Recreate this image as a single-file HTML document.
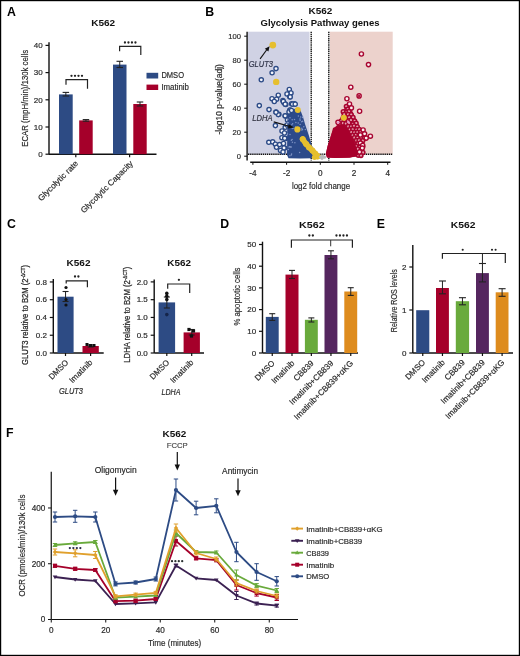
<!DOCTYPE html><html><head><meta charset="utf-8"><style>html,body{margin:0;padding:0;background:#fff}svg{display:block;will-change:transform;font-family:"Liberation Sans",sans-serif}</style></head><body>
<svg width="520" height="656" viewBox="0 0 520 656" >
<rect x="0" y="0" width="520" height="656" fill="#fff"/>
<text x="7.1" y="15.5" font-size="12.3" fill="#000" text-anchor="start" font-weight="bold">A</text>
<text x="103.2" y="26" font-size="9.9" fill="#111" text-anchor="middle" font-weight="bold" textLength="24" lengthAdjust="spacingAndGlyphs">K562</text>
<line x1="49" y1="42.3" x2="49" y2="154.2" stroke="#111" stroke-width="1.4"/>
<line x1="45.5" y1="45.4" x2="49" y2="45.4" stroke="#111" stroke-width="1.2"/>
<text x="42.6" y="48.1" font-size="8.0" fill="#2a2a2a" stroke="#2a2a2a" stroke-width="0.18" text-anchor="end">40</text>
<line x1="45.5" y1="72.6" x2="49" y2="72.6" stroke="#111" stroke-width="1.2"/>
<text x="42.6" y="75.3" font-size="8.0" fill="#2a2a2a" stroke="#2a2a2a" stroke-width="0.18" text-anchor="end">30</text>
<line x1="45.5" y1="99.8" x2="49" y2="99.8" stroke="#111" stroke-width="1.2"/>
<text x="42.6" y="102.5" font-size="8.0" fill="#2a2a2a" stroke="#2a2a2a" stroke-width="0.18" text-anchor="end">20</text>
<line x1="45.5" y1="127.0" x2="49" y2="127.0" stroke="#111" stroke-width="1.2"/>
<text x="42.6" y="129.7" font-size="8.0" fill="#2a2a2a" stroke="#2a2a2a" stroke-width="0.18" text-anchor="end">10</text>
<line x1="45.5" y1="154.2" x2="49" y2="154.2" stroke="#111" stroke-width="1.2"/>
<text x="42.6" y="156.9" font-size="8.0" fill="#2a2a2a" stroke="#2a2a2a" stroke-width="0.18" text-anchor="end">0</text>
<line x1="49" y1="154.2" x2="156.5" y2="154.2" stroke="#111" stroke-width="1.4"/>
<line x1="75.8" y1="154.2" x2="75.8" y2="157.2" stroke="#111" stroke-width="1.2"/>
<line x1="129.6" y1="154.2" x2="129.6" y2="157.2" stroke="#111" stroke-width="1.2"/>
<rect x="59" y="94.4" width="13.7" height="59.8" fill="#2d4b84"/>
<line x1="65.85" y1="92.4" x2="65.85" y2="96.0" stroke="#222" stroke-width="1.0"/>
<line x1="62.6" y1="92.4" x2="69.1" y2="92.4" stroke="#222" stroke-width="1.1"/>
<line x1="62.6" y1="96.0" x2="69.1" y2="96.0" stroke="#222" stroke-width="1.1"/>
<rect x="79.2" y="120.4" width="13.5" height="33.8" fill="#a5002a"/>
<line x1="85.95" y1="119.6" x2="85.95" y2="121.2" stroke="#222" stroke-width="1.0"/>
<line x1="82.7" y1="119.6" x2="89.2" y2="119.6" stroke="#222" stroke-width="1.1"/>
<line x1="82.7" y1="121.2" x2="89.2" y2="121.2" stroke="#222" stroke-width="1.1"/>
<rect x="113" y="64.6" width="13.5" height="89.6" fill="#2d4b84"/>
<line x1="119.75" y1="61.3" x2="119.75" y2="67.5" stroke="#222" stroke-width="1.0"/>
<line x1="116.5" y1="61.3" x2="123.0" y2="61.3" stroke="#222" stroke-width="1.1"/>
<line x1="116.5" y1="67.5" x2="123.0" y2="67.5" stroke="#222" stroke-width="1.1"/>
<rect x="133.3" y="104" width="13.4" height="50.2" fill="#a5002a"/>
<line x1="140.0" y1="102" x2="140.0" y2="106" stroke="#222" stroke-width="1.0"/>
<line x1="136.75" y1="102" x2="143.25" y2="102" stroke="#222" stroke-width="1.1"/>
<line x1="136.75" y1="106" x2="143.25" y2="106" stroke="#222" stroke-width="1.1"/>
<polyline points="66,84.8 66,79.6 87.5,79.6 87.5,88.7" fill="none" stroke="#222" stroke-width="1.2"/>
<circle cx="71.50" cy="75.8" r="1.15" fill="#222"/>
<circle cx="75.00" cy="75.8" r="1.15" fill="#222"/>
<circle cx="78.50" cy="75.8" r="1.15" fill="#222"/>
<circle cx="82.00" cy="75.8" r="1.15" fill="#222"/>
<polyline points="119.6,51.2 119.6,46.3 140.8,46.3 140.8,55" fill="none" stroke="#222" stroke-width="1.2"/>
<circle cx="124.95" cy="42.5" r="1.15" fill="#222"/>
<circle cx="128.45" cy="42.5" r="1.15" fill="#222"/>
<circle cx="131.95" cy="42.5" r="1.15" fill="#222"/>
<circle cx="135.45" cy="42.5" r="1.15" fill="#222"/>
<rect x="146.5" y="72.8" width="11.7" height="5.7" fill="#2d4b84"/>
<rect x="146.5" y="84.6" width="11.7" height="5.4" fill="#a5002a"/>
<text x="161.4" y="78.0" font-size="8.2" fill="#2a2a2a" stroke="#2a2a2a" stroke-width="0.18" text-anchor="start" textLength="22.6" lengthAdjust="spacingAndGlyphs">DMSO</text>
<text x="161.4" y="89.6" font-size="8.2" fill="#2a2a2a" stroke="#2a2a2a" stroke-width="0.18" text-anchor="start" textLength="27.5" lengthAdjust="spacingAndGlyphs">Imatinib</text>
<text x="28.3" y="98.3" font-size="8.2" fill="#2a2a2a" stroke="#2a2a2a" stroke-width="0.18" text-anchor="middle" textLength="97" lengthAdjust="spacingAndGlyphs" transform="rotate(-90 28.3 98.3)">ECAR (mpH/min)/130k cells</text>
<text x="78.7" y="164" font-size="8.2" fill="#2a2a2a" stroke="#2a2a2a" stroke-width="0.18" text-anchor="end" textLength="53" lengthAdjust="spacingAndGlyphs" transform="rotate(-45 78.7 164)">Glycolytic rate</text>
<text x="133.5" y="164" font-size="8.2" fill="#2a2a2a" stroke="#2a2a2a" stroke-width="0.18" text-anchor="end" textLength="70" lengthAdjust="spacingAndGlyphs" transform="rotate(-45 133.5 164)">Glycolytic Capacity</text>
<text x="6.9" y="228.2" font-size="12.3" fill="#000" text-anchor="start" font-weight="bold">C</text>
<text x="78.5" y="266" font-size="9.9" fill="#111" text-anchor="middle" font-weight="bold" textLength="23.9" lengthAdjust="spacingAndGlyphs">K562</text>
<line x1="53.3" y1="279" x2="53.3" y2="353" stroke="#111" stroke-width="1.4"/>
<line x1="49.8" y1="281.96" x2="53.3" y2="281.96" stroke="#111" stroke-width="1.2"/>
<text x="46.9" y="284.66" font-size="8.0" fill="#2a2a2a" stroke="#2a2a2a" stroke-width="0.18" text-anchor="end">0.8</text>
<line x1="49.8" y1="299.72" x2="53.3" y2="299.72" stroke="#111" stroke-width="1.2"/>
<text x="46.9" y="302.42" font-size="8.0" fill="#2a2a2a" stroke="#2a2a2a" stroke-width="0.18" text-anchor="end">0.6</text>
<line x1="49.8" y1="317.48" x2="53.3" y2="317.48" stroke="#111" stroke-width="1.2"/>
<text x="46.9" y="320.18" font-size="8.0" fill="#2a2a2a" stroke="#2a2a2a" stroke-width="0.18" text-anchor="end">0.4</text>
<line x1="49.8" y1="335.24" x2="53.3" y2="335.24" stroke="#111" stroke-width="1.2"/>
<text x="46.9" y="337.94" font-size="8.0" fill="#2a2a2a" stroke="#2a2a2a" stroke-width="0.18" text-anchor="end">0.2</text>
<line x1="49.8" y1="353.0" x2="53.3" y2="353.0" stroke="#111" stroke-width="1.2"/>
<text x="46.9" y="355.7" font-size="8.0" fill="#2a2a2a" stroke="#2a2a2a" stroke-width="0.18" text-anchor="end">0.0</text>
<line x1="53.3" y1="353" x2="103.7" y2="353" stroke="#111" stroke-width="1.4"/>
<line x1="65.5" y1="353" x2="65.5" y2="356" stroke="#111" stroke-width="1.2"/>
<line x1="90.6" y1="353" x2="90.6" y2="356" stroke="#111" stroke-width="1.2"/>
<rect x="57.5" y="296.7" width="16.1" height="56.3" fill="#2d4b84"/>
<line x1="65.55" y1="291.5" x2="65.55" y2="301.5" stroke="#222" stroke-width="1.0"/>
<line x1="62.55" y1="291.5" x2="68.55" y2="291.5" stroke="#222" stroke-width="1.1"/>
<line x1="62.55" y1="301.5" x2="68.55" y2="301.5" stroke="#222" stroke-width="1.1"/>
<rect x="82.5" y="346" width="16.3" height="7" fill="#a5002a"/>
<line x1="90.65" y1="345" x2="90.65" y2="347" stroke="#222" stroke-width="1.0"/>
<line x1="87.65" y1="345" x2="93.65" y2="345" stroke="#222" stroke-width="1.1"/>
<line x1="87.65" y1="347" x2="93.65" y2="347" stroke="#222" stroke-width="1.1"/>
<circle cx="66" cy="287.5" r="1.6" fill="#111"/>
<circle cx="66" cy="299.5" r="1.6" fill="#111"/>
<circle cx="66" cy="305" r="1.6" fill="#111"/>
<rect x="85.5" y="343.0" width="3" height="3" fill="#111"/>
<rect x="89.0" y="344.0" width="3" height="3" fill="#111"/>
<rect x="92.5" y="344.0" width="3" height="3" fill="#111"/>
<polyline points="66.2,283.5 66.2,280.9 87.4,280.9 87.4,287.2" fill="none" stroke="#222" stroke-width="1.2"/>
<circle cx="75.00" cy="276.5" r="1.15" fill="#222"/>
<circle cx="78.40" cy="276.5" r="1.15" fill="#222"/>
<text x="27.8" y="315" font-size="8.2" fill="#2a2a2a" stroke="#2a2a2a" stroke-width="0.25" text-anchor="middle" transform="rotate(-90 27.8 315)" textLength="100" lengthAdjust="spacingAndGlyphs">GLUT3 relative to B2M (2<tspan font-size="5" dy="-3">-ΔCT</tspan><tspan dy="3">)</tspan></text>
<text x="69" y="363" font-size="8.2" fill="#2a2a2a" stroke="#2a2a2a" stroke-width="0.18" text-anchor="end" textLength="24" lengthAdjust="spacingAndGlyphs" transform="rotate(-45 69 363)">DMSO</text>
<text x="93" y="363" font-size="8.2" fill="#2a2a2a" stroke="#2a2a2a" stroke-width="0.18" text-anchor="end" textLength="29" lengthAdjust="spacingAndGlyphs" transform="rotate(-45 93 363)">Imatinib</text>
<text x="71" y="394" font-size="8.6" fill="#2a2a2a" stroke="#2a2a2a" stroke-width="0.18" text-anchor="middle" font-style="italic" textLength="24" lengthAdjust="spacingAndGlyphs">GLUT3</text>
<text x="179.2" y="265.8" font-size="9.9" fill="#111" text-anchor="middle" font-weight="bold" textLength="23.7" lengthAdjust="spacingAndGlyphs">K562</text>
<line x1="154.2" y1="279.5" x2="154.2" y2="353" stroke="#111" stroke-width="1.4"/>
<line x1="150.7" y1="281.9" x2="154.2" y2="281.9" stroke="#111" stroke-width="1.2"/>
<text x="147.8" y="284.6" font-size="8.0" fill="#2a2a2a" stroke="#2a2a2a" stroke-width="0.18" text-anchor="end">2.0</text>
<line x1="150.7" y1="299.68" x2="154.2" y2="299.68" stroke="#111" stroke-width="1.2"/>
<text x="147.8" y="302.38" font-size="8.0" fill="#2a2a2a" stroke="#2a2a2a" stroke-width="0.18" text-anchor="end">1.5</text>
<line x1="150.7" y1="317.45" x2="154.2" y2="317.45" stroke="#111" stroke-width="1.2"/>
<text x="147.8" y="320.15" font-size="8.0" fill="#2a2a2a" stroke="#2a2a2a" stroke-width="0.18" text-anchor="end">1.0</text>
<line x1="150.7" y1="335.23" x2="154.2" y2="335.23" stroke="#111" stroke-width="1.2"/>
<text x="147.8" y="337.93" font-size="8.0" fill="#2a2a2a" stroke="#2a2a2a" stroke-width="0.18" text-anchor="end">0.5</text>
<line x1="150.7" y1="353.0" x2="154.2" y2="353.0" stroke="#111" stroke-width="1.2"/>
<text x="147.8" y="355.7" font-size="8.0" fill="#2a2a2a" stroke="#2a2a2a" stroke-width="0.18" text-anchor="end">0.0</text>
<line x1="154.2" y1="353" x2="204" y2="353" stroke="#111" stroke-width="1.4"/>
<line x1="166.8" y1="353" x2="166.8" y2="356" stroke="#111" stroke-width="1.2"/>
<line x1="191.7" y1="353" x2="191.7" y2="356" stroke="#111" stroke-width="1.2"/>
<rect x="158.6" y="302.4" width="16.5" height="50.6" fill="#2d4b84"/>
<line x1="166.85" y1="297" x2="166.85" y2="308" stroke="#222" stroke-width="1.0"/>
<line x1="163.85" y1="297" x2="169.85" y2="297" stroke="#222" stroke-width="1.1"/>
<line x1="163.85" y1="308" x2="169.85" y2="308" stroke="#222" stroke-width="1.1"/>
<rect x="183.6" y="332.4" width="16.3" height="20.6" fill="#a5002a"/>
<line x1="191.75" y1="329.5" x2="191.75" y2="335" stroke="#222" stroke-width="1.0"/>
<line x1="188.75" y1="329.5" x2="194.75" y2="329.5" stroke="#222" stroke-width="1.1"/>
<line x1="188.75" y1="335" x2="194.75" y2="335" stroke="#222" stroke-width="1.1"/>
<circle cx="166.8" cy="293.4" r="1.8" fill="#111"/>
<circle cx="166.8" cy="296.3" r="1.8" fill="#111"/>
<circle cx="166.8" cy="299.6" r="1.8" fill="#111"/>
<circle cx="166.8" cy="314.6" r="1.8" fill="#15254a"/>
<rect x="187.4" y="327.9" width="3.2" height="3.2" fill="#111"/>
<rect x="191.9" y="329.4" width="3.2" height="3.2" fill="#111"/>
<rect x="189.9" y="334.4" width="3.2" height="3.2" fill="#111"/>
<polyline points="167.7,288.7 167.7,284 189.7,284 189.7,292.9" fill="none" stroke="#222" stroke-width="1.2"/>
<circle cx="178.90" cy="279.8" r="1.15" fill="#222"/>
<text x="130" y="314.7" font-size="8.2" fill="#2a2a2a" stroke="#2a2a2a" stroke-width="0.25" text-anchor="middle" transform="rotate(-90 130 314.7)" textLength="96" lengthAdjust="spacingAndGlyphs">LDHA relative to B2M (2<tspan font-size="5" dy="-3">-ΔCT</tspan><tspan dy="3">)</tspan></text>
<text x="170" y="363" font-size="8.2" fill="#2a2a2a" stroke="#2a2a2a" stroke-width="0.18" text-anchor="end" textLength="24" lengthAdjust="spacingAndGlyphs" transform="rotate(-45 170 363)">DMSO</text>
<text x="194" y="363" font-size="8.2" fill="#2a2a2a" stroke="#2a2a2a" stroke-width="0.18" text-anchor="end" textLength="29" lengthAdjust="spacingAndGlyphs" transform="rotate(-45 194 363)">Imatinib</text>
<text x="171" y="394.5" font-size="8.6" fill="#2a2a2a" stroke="#2a2a2a" stroke-width="0.18" text-anchor="middle" font-style="italic" textLength="19" lengthAdjust="spacingAndGlyphs">LDHA</text>
<text x="220.2" y="227.9" font-size="12.3" fill="#000" text-anchor="start" font-weight="bold">D</text>
<text x="311.8" y="227.8" font-size="9.9" fill="#111" text-anchor="middle" font-weight="bold" textLength="25.6" lengthAdjust="spacingAndGlyphs">K562</text>
<line x1="262.5" y1="241.7" x2="262.5" y2="353" stroke="#111" stroke-width="1.4"/>
<line x1="259.0" y1="244.5" x2="262.5" y2="244.5" stroke="#111" stroke-width="1.2"/>
<text x="256.1" y="247.2" font-size="8.0" fill="#2a2a2a" stroke="#2a2a2a" stroke-width="0.18" text-anchor="end">50</text>
<line x1="259.0" y1="266.2" x2="262.5" y2="266.2" stroke="#111" stroke-width="1.2"/>
<text x="256.1" y="268.9" font-size="8.0" fill="#2a2a2a" stroke="#2a2a2a" stroke-width="0.18" text-anchor="end">40</text>
<line x1="259.0" y1="287.9" x2="262.5" y2="287.9" stroke="#111" stroke-width="1.2"/>
<text x="256.1" y="290.6" font-size="8.0" fill="#2a2a2a" stroke="#2a2a2a" stroke-width="0.18" text-anchor="end">30</text>
<line x1="259.0" y1="309.6" x2="262.5" y2="309.6" stroke="#111" stroke-width="1.2"/>
<text x="256.1" y="312.3" font-size="8.0" fill="#2a2a2a" stroke="#2a2a2a" stroke-width="0.18" text-anchor="end">20</text>
<line x1="259.0" y1="331.3" x2="262.5" y2="331.3" stroke="#111" stroke-width="1.2"/>
<text x="256.1" y="334.0" font-size="8.0" fill="#2a2a2a" stroke="#2a2a2a" stroke-width="0.18" text-anchor="end">10</text>
<line x1="259.0" y1="353.0" x2="262.5" y2="353.0" stroke="#111" stroke-width="1.2"/>
<text x="256.1" y="355.7" font-size="8.0" fill="#2a2a2a" stroke="#2a2a2a" stroke-width="0.18" text-anchor="end">0</text>
<line x1="262.5" y1="353" x2="358" y2="353" stroke="#111" stroke-width="1.4"/>
<line x1="272.25" y1="353" x2="272.25" y2="356" stroke="#111" stroke-width="1.2"/>
<line x1="292.0" y1="353" x2="292.0" y2="356" stroke="#111" stroke-width="1.2"/>
<line x1="311.35" y1="353" x2="311.35" y2="356" stroke="#111" stroke-width="1.2"/>
<line x1="330.95" y1="353" x2="330.95" y2="356" stroke="#111" stroke-width="1.2"/>
<line x1="350.75" y1="353" x2="350.75" y2="356" stroke="#111" stroke-width="1.2"/>
<rect x="265.8" y="316.9" width="12.9" height="36.1" fill="#2d4b84"/>
<line x1="272.25" y1="313.7" x2="272.25" y2="320.4" stroke="#222" stroke-width="1.0"/>
<line x1="269.25" y1="313.7" x2="275.25" y2="313.7" stroke="#222" stroke-width="1.1"/>
<line x1="269.25" y1="320.4" x2="275.25" y2="320.4" stroke="#222" stroke-width="1.1"/>
<rect x="285.5" y="274.6" width="13.0" height="78.4" fill="#a5002a"/>
<line x1="292.0" y1="270.4" x2="292.0" y2="278.5" stroke="#222" stroke-width="1.0"/>
<line x1="289.0" y1="270.4" x2="295.0" y2="270.4" stroke="#222" stroke-width="1.1"/>
<line x1="289.0" y1="278.5" x2="295.0" y2="278.5" stroke="#222" stroke-width="1.1"/>
<rect x="304.9" y="319.8" width="12.9" height="33.2" fill="#69aa3c"/>
<line x1="311.35" y1="317.9" x2="311.35" y2="322" stroke="#222" stroke-width="1.0"/>
<line x1="308.35" y1="317.9" x2="314.35" y2="317.9" stroke="#222" stroke-width="1.1"/>
<line x1="308.35" y1="322" x2="314.35" y2="322" stroke="#222" stroke-width="1.1"/>
<rect x="324.5" y="255" width="12.9" height="98" fill="#55265f"/>
<line x1="330.95" y1="250.8" x2="330.95" y2="258.8" stroke="#222" stroke-width="1.0"/>
<line x1="327.95" y1="250.8" x2="333.95" y2="250.8" stroke="#222" stroke-width="1.1"/>
<line x1="327.95" y1="258.8" x2="333.95" y2="258.8" stroke="#222" stroke-width="1.1"/>
<rect x="344.3" y="291.5" width="12.9" height="61.5" fill="#de8c1e"/>
<line x1="350.75" y1="287.7" x2="350.75" y2="295.4" stroke="#222" stroke-width="1.0"/>
<line x1="347.75" y1="287.7" x2="353.75" y2="287.7" stroke="#222" stroke-width="1.1"/>
<line x1="347.75" y1="295.4" x2="353.75" y2="295.4" stroke="#222" stroke-width="1.1"/>
<polyline points="291.4,247.7 291.4,240 352.4,240 352.4,247.7" fill="none" stroke="#222" stroke-width="1.2"/>
<line x1="330.7" y1="240" x2="330.7" y2="246.3" stroke="#333" stroke-width="1.0"/>
<circle cx="309.35" cy="235.5" r="1.15" fill="#222"/>
<circle cx="312.85" cy="235.5" r="1.15" fill="#222"/>
<circle cx="336.45" cy="235.5" r="1.15" fill="#222"/>
<circle cx="339.95" cy="235.5" r="1.15" fill="#222"/>
<circle cx="343.45" cy="235.5" r="1.15" fill="#222"/>
<circle cx="346.95" cy="235.5" r="1.15" fill="#222"/>
<text x="240.3" y="296.5" font-size="8.2" fill="#2a2a2a" stroke="#2a2a2a" stroke-width="0.18" text-anchor="middle" textLength="58" lengthAdjust="spacingAndGlyphs" transform="rotate(-90 240.3 296.5)">% apoptotic cells</text>
<text x="275.25" y="363.8" font-size="8.2" fill="#2a2a2a" stroke="#2a2a2a" stroke-width="0.18" text-anchor="end" transform="rotate(-45 275.25 363.8)">DMSO</text>
<text x="295.0" y="363.8" font-size="8.2" fill="#2a2a2a" stroke="#2a2a2a" stroke-width="0.18" text-anchor="end" transform="rotate(-45 295.0 363.8)">Imatinib</text>
<text x="314.35" y="363.8" font-size="8.2" fill="#2a2a2a" stroke="#2a2a2a" stroke-width="0.18" text-anchor="end" transform="rotate(-45 314.35 363.8)">CB839</text>
<text x="333.95" y="363.8" font-size="8.2" fill="#2a2a2a" stroke="#2a2a2a" stroke-width="0.18" text-anchor="end" transform="rotate(-45 333.95 363.8)">Imatinib+CB839</text>
<text x="353.75" y="363.8" font-size="8.2" fill="#2a2a2a" stroke="#2a2a2a" stroke-width="0.18" text-anchor="end" transform="rotate(-45 353.75 363.8)">Imatinib+CB839+αKG</text>
<text x="376.8" y="227.9" font-size="12.3" fill="#000" text-anchor="start" font-weight="bold">E</text>
<text x="463.1" y="227.8" font-size="9.9" fill="#111" text-anchor="middle" font-weight="bold" textLength="24.6" lengthAdjust="spacingAndGlyphs">K562</text>
<line x1="412.8" y1="245" x2="412.8" y2="353" stroke="#111" stroke-width="1.4"/>
<line x1="409.3" y1="267" x2="412.8" y2="267" stroke="#111" stroke-width="1.2"/>
<text x="406.4" y="269.7" font-size="8.0" fill="#2a2a2a" stroke="#2a2a2a" stroke-width="0.18" text-anchor="end">2</text>
<line x1="409.3" y1="310" x2="412.8" y2="310" stroke="#111" stroke-width="1.2"/>
<text x="406.4" y="312.7" font-size="8.0" fill="#2a2a2a" stroke="#2a2a2a" stroke-width="0.18" text-anchor="end">1</text>
<line x1="409.3" y1="353" x2="412.8" y2="353" stroke="#111" stroke-width="1.2"/>
<text x="406.4" y="355.7" font-size="8.0" fill="#2a2a2a" stroke="#2a2a2a" stroke-width="0.18" text-anchor="end">0</text>
<line x1="412.8" y1="353" x2="513" y2="353" stroke="#111" stroke-width="1.4"/>
<line x1="422.75" y1="353" x2="422.75" y2="356" stroke="#111" stroke-width="1.2"/>
<line x1="442.45" y1="353" x2="442.45" y2="356" stroke="#111" stroke-width="1.2"/>
<line x1="462.45" y1="353" x2="462.45" y2="356" stroke="#111" stroke-width="1.2"/>
<line x1="482.45" y1="353" x2="482.45" y2="356" stroke="#111" stroke-width="1.2"/>
<line x1="502.1" y1="353" x2="502.1" y2="356" stroke="#111" stroke-width="1.2"/>
<rect x="416.2" y="310.2" width="13.1" height="42.8" fill="#2d4b84"/>
<rect x="436" y="288" width="12.9" height="65" fill="#a5002a"/>
<line x1="442.45" y1="281" x2="442.45" y2="293.8" stroke="#222" stroke-width="1.0"/>
<line x1="438.95" y1="281" x2="445.95" y2="281" stroke="#222" stroke-width="1.1"/>
<line x1="438.95" y1="293.8" x2="445.95" y2="293.8" stroke="#222" stroke-width="1.1"/>
<rect x="455.8" y="301.2" width="13.3" height="51.8" fill="#69aa3c"/>
<line x1="462.45" y1="297.7" x2="462.45" y2="304.8" stroke="#222" stroke-width="1.0"/>
<line x1="458.95" y1="297.7" x2="465.95" y2="297.7" stroke="#222" stroke-width="1.1"/>
<line x1="458.95" y1="304.8" x2="465.95" y2="304.8" stroke="#222" stroke-width="1.1"/>
<rect x="476" y="273.1" width="12.9" height="79.9" fill="#55265f"/>
<line x1="482.45" y1="263.5" x2="482.45" y2="281.9" stroke="#222" stroke-width="1.0"/>
<line x1="478.95" y1="263.5" x2="485.95" y2="263.5" stroke="#222" stroke-width="1.1"/>
<line x1="478.95" y1="281.9" x2="485.95" y2="281.9" stroke="#222" stroke-width="1.1"/>
<line x1="482.45" y1="253.5" x2="482.45" y2="263.5" stroke="#222" stroke-width="1.0"/>
<rect x="495.7" y="292.3" width="12.8" height="60.7" fill="#de8c1e"/>
<line x1="502.1" y1="288.7" x2="502.1" y2="296.3" stroke="#222" stroke-width="1.0"/>
<line x1="498.6" y1="288.7" x2="505.6" y2="288.7" stroke="#222" stroke-width="1.1"/>
<line x1="498.6" y1="296.3" x2="505.6" y2="296.3" stroke="#222" stroke-width="1.1"/>
<polyline points="442.4,258.8 442.4,253.5 505.3,253.5 505.3,263" fill="none" stroke="#222" stroke-width="1.2"/>
<circle cx="462.70" cy="249.8" r="1.05" fill="#222"/>
<circle cx="492.00" cy="249.8" r="1.05" fill="#222"/>
<circle cx="495.60" cy="249.8" r="1.05" fill="#222"/>
<text x="397.5" y="300.7" font-size="8.2" fill="#2a2a2a" stroke="#2a2a2a" stroke-width="0.18" text-anchor="middle" textLength="63" lengthAdjust="spacingAndGlyphs" transform="rotate(-90 397.5 300.7)">Relative ROS levels</text>
<text x="425.75" y="363" font-size="8.2" fill="#2a2a2a" stroke="#2a2a2a" stroke-width="0.18" text-anchor="end" transform="rotate(-45 425.75 363)">DMSO</text>
<text x="445.45" y="363" font-size="8.2" fill="#2a2a2a" stroke="#2a2a2a" stroke-width="0.18" text-anchor="end" transform="rotate(-45 445.45 363)">Imatinib</text>
<text x="465.45" y="363" font-size="8.2" fill="#2a2a2a" stroke="#2a2a2a" stroke-width="0.18" text-anchor="end" transform="rotate(-45 465.45 363)">CB839</text>
<text x="485.45" y="363" font-size="8.2" fill="#2a2a2a" stroke="#2a2a2a" stroke-width="0.18" text-anchor="end" transform="rotate(-45 485.45 363)">Imatinib+CB839</text>
<text x="505.1" y="363" font-size="8.2" fill="#2a2a2a" stroke="#2a2a2a" stroke-width="0.18" text-anchor="end" transform="rotate(-45 505.1 363)">Imatinib+CB839+αKG</text>
<text x="205.3" y="15.6" font-size="12.3" fill="#000" text-anchor="start" font-weight="bold">B</text>
<text x="320.4" y="13.5" font-size="9.9" fill="#111" text-anchor="middle" font-weight="bold" textLength="23.8" lengthAdjust="spacingAndGlyphs">K562</text>
<text x="320" y="25.8" font-size="9.6" fill="#111" text-anchor="middle" font-weight="bold" textLength="119" lengthAdjust="spacingAndGlyphs">Glycolysis Pathway genes</text>
<rect x="248" y="31.7" width="61.5" height="122.6" fill="#d0d2e4"/>
<rect x="330" y="31.7" width="62.7" height="122.6" fill="#ecd2cc"/>
<line x1="247.1" y1="31.7" x2="247.1" y2="160.4" stroke="#111" stroke-width="1.4"/>
<line x1="244.2" y1="36.2" x2="247.1" y2="36.2" stroke="#111" stroke-width="1.0"/>
<text x="241" y="38.8" font-size="7.6" fill="#2a2a2a" stroke="#2a2a2a" stroke-width="0.18" text-anchor="end">100</text>
<line x1="244.2" y1="60.2" x2="247.1" y2="60.2" stroke="#111" stroke-width="1.0"/>
<text x="241" y="62.8" font-size="7.6" fill="#2a2a2a" stroke="#2a2a2a" stroke-width="0.18" text-anchor="end">80</text>
<line x1="244.2" y1="84.2" x2="247.1" y2="84.2" stroke="#111" stroke-width="1.0"/>
<text x="241" y="86.8" font-size="7.6" fill="#2a2a2a" stroke="#2a2a2a" stroke-width="0.18" text-anchor="end">60</text>
<line x1="244.2" y1="108.2" x2="247.1" y2="108.2" stroke="#111" stroke-width="1.0"/>
<text x="241" y="110.8" font-size="7.6" fill="#2a2a2a" stroke="#2a2a2a" stroke-width="0.18" text-anchor="end">40</text>
<line x1="244.2" y1="132.2" x2="247.1" y2="132.2" stroke="#111" stroke-width="1.0"/>
<text x="241" y="134.8" font-size="7.6" fill="#2a2a2a" stroke="#2a2a2a" stroke-width="0.18" text-anchor="end">20</text>
<line x1="244.2" y1="156.2" x2="247.1" y2="156.2" stroke="#111" stroke-width="1.0"/>
<text x="241" y="158.8" font-size="7.6" fill="#2a2a2a" stroke="#2a2a2a" stroke-width="0.18" text-anchor="end">0</text>
<line x1="250.2" y1="162.2" x2="390.5" y2="162.2" stroke="#111" stroke-width="1.4"/>
<line x1="252.9" y1="162.2" x2="252.9" y2="164.8" stroke="#111" stroke-width="1.0"/>
<text x="252.9" y="175.8" font-size="8.2" fill="#2a2a2a" stroke="#2a2a2a" stroke-width="0.18" text-anchor="middle">-4</text>
<line x1="286.6" y1="162.2" x2="286.6" y2="164.8" stroke="#111" stroke-width="1.0"/>
<text x="286.6" y="175.8" font-size="8.2" fill="#2a2a2a" stroke="#2a2a2a" stroke-width="0.18" text-anchor="middle">-2</text>
<line x1="320.3" y1="162.2" x2="320.3" y2="164.8" stroke="#111" stroke-width="1.0"/>
<text x="320.3" y="175.8" font-size="8.2" fill="#2a2a2a" stroke="#2a2a2a" stroke-width="0.18" text-anchor="middle">0</text>
<line x1="354.0" y1="162.2" x2="354.0" y2="164.8" stroke="#111" stroke-width="1.0"/>
<text x="354.0" y="175.8" font-size="8.2" fill="#2a2a2a" stroke="#2a2a2a" stroke-width="0.18" text-anchor="middle">2</text>
<line x1="387.7" y1="162.2" x2="387.7" y2="164.8" stroke="#111" stroke-width="1.0"/>
<text x="387.7" y="175.8" font-size="8.2" fill="#2a2a2a" stroke="#2a2a2a" stroke-width="0.18" text-anchor="middle">4</text>
<text x="321" y="189" font-size="9" fill="#2a2a2a" stroke="#2a2a2a" stroke-width="0.18" text-anchor="middle" textLength="58.2" lengthAdjust="spacingAndGlyphs">log2 fold change</text>
<text x="222.2" y="99.3" font-size="8.2" fill="#2a2a2a" stroke="#2a2a2a" stroke-width="0.18" text-anchor="middle" textLength="70.5" lengthAdjust="spacingAndGlyphs" transform="rotate(-90 222.2 99.3)">-log10 p-value(adj)</text>
<line x1="311.2" y1="31.7" x2="311.2" y2="160.5" stroke="#111" stroke-width="1.4" stroke-dasharray="1.4,0.7"/>
<line x1="328.8" y1="31.7" x2="328.8" y2="160.5" stroke="#111" stroke-width="1.4" stroke-dasharray="1.4,0.7"/>
<line x1="248" y1="154.3" x2="392.7" y2="154.3" stroke="#111" stroke-width="1.4" stroke-dasharray="1.4,0.7"/>
<circle cx="276" cy="68.6" r="2.1" fill="#f4f5fb" stroke="#2b4a86" stroke-width="1.35"/>
<circle cx="272.1" cy="72.8" r="2.1" fill="#f4f5fb" stroke="#2b4a86" stroke-width="1.35"/>
<circle cx="261.3" cy="79.8" r="2.1" fill="#f4f5fb" stroke="#2b4a86" stroke-width="1.35"/>
<circle cx="289.3" cy="89.4" r="2.1" fill="#f4f5fb" stroke="#2b4a86" stroke-width="1.35"/>
<circle cx="291" cy="92.9" r="2.1" fill="#f4f5fb" stroke="#2b4a86" stroke-width="1.35"/>
<circle cx="287" cy="94" r="2.1" fill="#f4f5fb" stroke="#2b4a86" stroke-width="1.35"/>
<circle cx="289.8" cy="96.7" r="2.1" fill="#f4f5fb" stroke="#2b4a86" stroke-width="1.35"/>
<circle cx="278.3" cy="95.2" r="2.1" fill="#f4f5fb" stroke="#2b4a86" stroke-width="1.35"/>
<circle cx="272" cy="98.7" r="2.1" fill="#f4f5fb" stroke="#2b4a86" stroke-width="1.35"/>
<circle cx="276.6" cy="99.2" r="2.1" fill="#f4f5fb" stroke="#2b4a86" stroke-width="1.35"/>
<circle cx="274.3" cy="101.5" r="2.1" fill="#f4f5fb" stroke="#2b4a86" stroke-width="1.35"/>
<circle cx="282.9" cy="100.4" r="2.1" fill="#f4f5fb" stroke="#2b4a86" stroke-width="1.35"/>
<circle cx="284" cy="102.7" r="2.1" fill="#f4f5fb" stroke="#2b4a86" stroke-width="1.35"/>
<circle cx="285.8" cy="104.4" r="2.1" fill="#f4f5fb" stroke="#2b4a86" stroke-width="1.35"/>
<circle cx="291.6" cy="103.8" r="2.1" fill="#f4f5fb" stroke="#2b4a86" stroke-width="1.35"/>
<circle cx="294.5" cy="103.8" r="2.1" fill="#f4f5fb" stroke="#2b4a86" stroke-width="1.35"/>
<circle cx="259.3" cy="105.6" r="2.1" fill="#f4f5fb" stroke="#2b4a86" stroke-width="1.35"/>
<circle cx="269" cy="109.6" r="2.1" fill="#f4f5fb" stroke="#2b4a86" stroke-width="1.35"/>
<circle cx="276" cy="111.9" r="2.1" fill="#f4f5fb" stroke="#2b4a86" stroke-width="1.35"/>
<circle cx="278.9" cy="114.2" r="2.1" fill="#f4f5fb" stroke="#2b4a86" stroke-width="1.35"/>
<circle cx="285.2" cy="116" r="2.1" fill="#f4f5fb" stroke="#2b4a86" stroke-width="1.35"/>
<circle cx="289.8" cy="110.2" r="2.1" fill="#f4f5fb" stroke="#2b4a86" stroke-width="1.35"/>
<circle cx="283.3" cy="101.5" r="2.1" fill="#f4f5fb" stroke="#2b4a86" stroke-width="1.35"/>
<circle cx="285.2" cy="104.2" r="2.1" fill="#f4f5fb" stroke="#2b4a86" stroke-width="1.35"/>
<circle cx="290.2" cy="96.9" r="2.1" fill="#f4f5fb" stroke="#2b4a86" stroke-width="1.35"/>
<circle cx="292.5" cy="104.2" r="2.1" fill="#f4f5fb" stroke="#2b4a86" stroke-width="1.35"/>
<circle cx="295.2" cy="104.2" r="2.1" fill="#f4f5fb" stroke="#2b4a86" stroke-width="1.35"/>
<circle cx="290.2" cy="110" r="2.1" fill="#f4f5fb" stroke="#2b4a86" stroke-width="1.35"/>
<circle cx="285.2" cy="115.8" r="2.1" fill="#f4f5fb" stroke="#2b4a86" stroke-width="1.35"/>
<circle cx="278.3" cy="114.6" r="2.1" fill="#f4f5fb" stroke="#2b4a86" stroke-width="1.35"/>
<circle cx="275.4" cy="125.6" r="2.1" fill="#f4f5fb" stroke="#2b4a86" stroke-width="1.35"/>
<circle cx="268.8" cy="142.3" r="2.1" fill="#f4f5fb" stroke="#2b4a86" stroke-width="1.35"/>
<circle cx="272.7" cy="141.9" r="2.1" fill="#f4f5fb" stroke="#2b4a86" stroke-width="1.35"/>
<circle cx="275.4" cy="144.2" r="2.1" fill="#f4f5fb" stroke="#2b4a86" stroke-width="1.35"/>
<circle cx="276.5" cy="147.3" r="2.1" fill="#f4f5fb" stroke="#2b4a86" stroke-width="1.35"/>
<circle cx="279.6" cy="144.6" r="2.1" fill="#f4f5fb" stroke="#2b4a86" stroke-width="1.35"/>
<circle cx="281.9" cy="137.7" r="2.1" fill="#f4f5fb" stroke="#2b4a86" stroke-width="1.35"/>
<circle cx="283.5" cy="143.5" r="2.1" fill="#f4f5fb" stroke="#2b4a86" stroke-width="1.35"/>
<circle cx="284.6" cy="148.1" r="2.1" fill="#f4f5fb" stroke="#2b4a86" stroke-width="1.35"/>
<circle cx="285.8" cy="138.5" r="2.1" fill="#f4f5fb" stroke="#2b4a86" stroke-width="1.35"/>
<circle cx="284.7" cy="138.3" r="2.1" fill="#f4f5fb" stroke="#2b4a86" stroke-width="1.35"/>
<circle cx="284" cy="148" r="2.1" fill="#f4f5fb" stroke="#2b4a86" stroke-width="1.35"/>
<circle cx="276" cy="112.3" r="2.1" fill="#f4f5fb" stroke="#2b4a86" stroke-width="1.35"/>
<circle cx="285.2" cy="127.3" r="2.1" fill="#f4f5fb" stroke="#2b4a86" stroke-width="1.35"/>
<circle cx="282" cy="131" r="2.1" fill="#f4f5fb" stroke="#2b4a86" stroke-width="1.35"/>
<circle cx="284.5" cy="133" r="2.1" fill="#f4f5fb" stroke="#2b4a86" stroke-width="1.35"/>
<circle cx="280.5" cy="150.5" r="2.1" fill="#f4f5fb" stroke="#2b4a86" stroke-width="1.35"/>
<circle cx="283" cy="152" r="2.1" fill="#f4f5fb" stroke="#2b4a86" stroke-width="1.35"/>
<circle cx="287.5" cy="120" r="2.1" fill="#f4f5fb" stroke="#2b4a86" stroke-width="1.35"/>
<circle cx="287" cy="125" r="2.1" fill="#f4f5fb" stroke="#2b4a86" stroke-width="1.35"/>
<path d="M287.5,112 L292,109.5 L296,108.5 L300.5,110.5 L303,117 L305,124 L307,130 L309,136 L310.5,141 L312,146 L314.5,150 L317,153.5 L319,157 L312,158.3 L300,158.5 L288.5,158.3 L287,155 L287.2,140 L287.2,128 L287.3,118 Z" fill="#2c4a8a"/>
<circle cx="290.0" cy="134.6" r="0.75" fill="#9fb0dc" opacity="0.7"/>
<circle cx="302.6" cy="121.2" r="0.75" fill="#9fb0dc" opacity="0.7"/>
<circle cx="289.9" cy="155.8" r="0.75" fill="#9fb0dc" opacity="0.7"/>
<circle cx="298.4" cy="116.1" r="0.75" fill="#9fb0dc" opacity="0.7"/>
<circle cx="294.9" cy="142.8" r="0.75" fill="#9fb0dc" opacity="0.7"/>
<circle cx="301.8" cy="129.9" r="0.75" fill="#9fb0dc" opacity="0.7"/>
<circle cx="287.9" cy="119.2" r="0.75" fill="#9fb0dc" opacity="0.7"/>
<circle cx="305.3" cy="129.5" r="0.75" fill="#9fb0dc" opacity="0.7"/>
<circle cx="298.2" cy="123.1" r="0.75" fill="#9fb0dc" opacity="0.7"/>
<circle cx="295.7" cy="127.1" r="0.75" fill="#9fb0dc" opacity="0.7"/>
<circle cx="304.0" cy="141.1" r="0.75" fill="#9fb0dc" opacity="0.7"/>
<circle cx="288.4" cy="149.4" r="0.75" fill="#9fb0dc" opacity="0.7"/>
<circle cx="300.0" cy="118.9" r="0.75" fill="#9fb0dc" opacity="0.7"/>
<circle cx="301.8" cy="128.3" r="0.75" fill="#9fb0dc" opacity="0.7"/>
<circle cx="288.2" cy="122.8" r="0.75" fill="#9fb0dc" opacity="0.7"/>
<circle cx="297.9" cy="111.1" r="0.75" fill="#9fb0dc" opacity="0.7"/>
<circle cx="300.1" cy="124.6" r="0.75" fill="#9fb0dc" opacity="0.7"/>
<circle cx="291.6" cy="154.1" r="0.75" fill="#9fb0dc" opacity="0.7"/>
<circle cx="303.8" cy="126.8" r="0.75" fill="#9fb0dc" opacity="0.7"/>
<circle cx="300.1" cy="120.2" r="0.75" fill="#9fb0dc" opacity="0.7"/>
<circle cx="291.3" cy="155.0" r="0.75" fill="#9fb0dc" opacity="0.7"/>
<circle cx="292.4" cy="142.2" r="0.75" fill="#9fb0dc" opacity="0.7"/>
<circle cx="292.6" cy="123.7" r="0.75" fill="#9fb0dc" opacity="0.7"/>
<circle cx="289.7" cy="146.8" r="0.75" fill="#9fb0dc" opacity="0.7"/>
<circle cx="290.0" cy="117.8" r="0.75" fill="#9fb0dc" opacity="0.7"/>
<circle cx="291.8" cy="124.7" r="0.75" fill="#9fb0dc" opacity="0.7"/>
<circle cx="302.5" cy="129.6" r="0.75" fill="#9fb0dc" opacity="0.7"/>
<circle cx="303.0" cy="117.0" r="0.75" fill="#9fb0dc" opacity="0.7"/>
<circle cx="292.1" cy="139.6" r="0.75" fill="#9fb0dc" opacity="0.7"/>
<circle cx="294.5" cy="119.6" r="0.75" fill="#9fb0dc" opacity="0.7"/>
<circle cx="287.5" cy="133.9" r="0.75" fill="#9fb0dc" opacity="0.7"/>
<circle cx="289.0" cy="146.9" r="0.75" fill="#9fb0dc" opacity="0.7"/>
<circle cx="302.6" cy="117.6" r="0.75" fill="#9fb0dc" opacity="0.7"/>
<circle cx="290.9" cy="146.9" r="0.75" fill="#9fb0dc" opacity="0.7"/>
<circle cx="287.7" cy="122.7" r="0.75" fill="#9fb0dc" opacity="0.7"/>
<circle cx="301.7" cy="121.7" r="0.75" fill="#9fb0dc" opacity="0.7"/>
<circle cx="292.3" cy="128.6" r="0.75" fill="#9fb0dc" opacity="0.7"/>
<circle cx="293.8" cy="128.2" r="0.75" fill="#9fb0dc" opacity="0.7"/>
<circle cx="295.9" cy="122.6" r="0.75" fill="#9fb0dc" opacity="0.7"/>
<circle cx="292.2" cy="119.7" r="0.75" fill="#9fb0dc" opacity="0.7"/>
<circle cx="291.0" cy="147.1" r="0.75" fill="#9fb0dc" opacity="0.7"/>
<circle cx="299.6" cy="152.4" r="0.75" fill="#9fb0dc" opacity="0.7"/>
<circle cx="300.7" cy="117.1" r="0.75" fill="#9fb0dc" opacity="0.7"/>
<circle cx="291.3" cy="140.2" r="0.75" fill="#9fb0dc" opacity="0.7"/>
<circle cx="296.0" cy="128.4" r="0.75" fill="#9fb0dc" opacity="0.7"/>
<circle cx="289" cy="112" r="2.1" fill="#dfe4f2" stroke="#2b4a86" stroke-width="1.35"/>
<circle cx="291.5" cy="110.5" r="2.1" fill="#dfe4f2" stroke="#2b4a86" stroke-width="1.35"/>
<circle cx="272.8" cy="45.1" r="3.4" fill="#e6bf2e"/>
<circle cx="276.2" cy="81.9" r="3.2" fill="#e6bf2e"/>
<circle cx="297.8" cy="110" r="3" fill="#e6bf2e"/>
<circle cx="297.4" cy="129.4" r="3.1" fill="#e6bf2e"/>
<path d="M302.6,139 L306,144 L309.5,147.6 L312.5,150.6 L315.3,153.6 L317.8,156.6" stroke="#e6bf2e" stroke-width="5.6" stroke-linecap="round" fill="none"/>
<circle cx="302.8" cy="139.3" r="3" fill="#e6bf2e"/>
<circle cx="306.2" cy="144.1" r="3" fill="#e6bf2e"/>
<circle cx="309" cy="147.5" r="3" fill="#e6bf2e"/>
<circle cx="312.4" cy="150.4" r="3" fill="#e6bf2e"/>
<circle cx="315.3" cy="153.7" r="3" fill="#e6bf2e"/>
<circle cx="317.7" cy="156.2" r="3" fill="#e6bf2e"/>
<circle cx="314.5" cy="157.3" r="2.6" fill="#e6bf2e"/>
<circle cx="320.5" cy="157" r="1.6" fill="#b8bcbc"/>
<circle cx="322.5" cy="156" r="1.6" fill="#b8bcbc"/>
<circle cx="324.5" cy="157.2" r="1.6" fill="#b8bcbc"/>
<circle cx="322" cy="158.3" r="1.6" fill="#b8bcbc"/>
<path d="M347,103.5 L350,107 L352.5,111.5 L355,117 L357,123 L359.5,129 L362,133 L365,137 L364,143 L363,148 L364,153 L360,156.5 L348,157.6 L335,157.9 L327,157.5 L325.8,154 L327.6,146 L330.2,138 L332.5,131 L337,125 L340,119 L342.5,113 L344.5,108 Z" fill="#b0123c"/>
<circle cx="346.3" cy="106.3" r="1.9" fill="#e4a0ae" stroke="#a8042f" stroke-width="1.5"/>
<circle cx="347.8" cy="109.2" r="1.9" fill="#e4a0ae" stroke="#a8042f" stroke-width="1.5"/>
<circle cx="343.2" cy="111.7" r="1.9" fill="#e4a0ae" stroke="#a8042f" stroke-width="1.5"/>
<circle cx="346.7" cy="112.1" r="1.9" fill="#e4a0ae" stroke="#a8042f" stroke-width="1.5"/>
<circle cx="349.0" cy="111.5" r="1.9" fill="#e4a0ae" stroke="#a8042f" stroke-width="1.5"/>
<circle cx="344.2" cy="114.3" r="1.9" fill="#e4a0ae" stroke="#a8042f" stroke-width="1.5"/>
<circle cx="348.1" cy="114.4" r="1.9" fill="#e4a0ae" stroke="#a8042f" stroke-width="1.5"/>
<circle cx="351.2" cy="114.6" r="1.9" fill="#e4a0ae" stroke="#a8042f" stroke-width="1.5"/>
<circle cx="343.3" cy="117.7" r="1.9" fill="#e4a0ae" stroke="#a8042f" stroke-width="1.5"/>
<circle cx="345.8" cy="118.1" r="1.9" fill="#e4a0ae" stroke="#a8042f" stroke-width="1.5"/>
<circle cx="349.2" cy="117.4" r="1.9" fill="#e4a0ae" stroke="#a8042f" stroke-width="1.5"/>
<circle cx="353.1" cy="117.4" r="1.9" fill="#e4a0ae" stroke="#a8042f" stroke-width="1.5"/>
<circle cx="341.3" cy="120.9" r="1.9" fill="#e4a0ae" stroke="#a8042f" stroke-width="1.5"/>
<circle cx="344.2" cy="120.2" r="1.9" fill="#e4a0ae" stroke="#a8042f" stroke-width="1.5"/>
<circle cx="348.3" cy="120.8" r="1.9" fill="#e4a0ae" stroke="#a8042f" stroke-width="1.5"/>
<circle cx="350.9" cy="120.2" r="1.9" fill="#e4a0ae" stroke="#a8042f" stroke-width="1.5"/>
<circle cx="354.7" cy="120.9" r="1.9" fill="#e4a0ae" stroke="#a8042f" stroke-width="1.5"/>
<circle cx="339.4" cy="123.7" r="1.9" fill="#e4a0ae" stroke="#a8042f" stroke-width="1.5"/>
<circle cx="343.0" cy="123.2" r="1.9" fill="#e4a0ae" stroke="#a8042f" stroke-width="1.5"/>
<circle cx="345.9" cy="123.6" r="1.9" fill="#e4a0ae" stroke="#a8042f" stroke-width="1.5"/>
<circle cx="349.1" cy="123.1" r="1.9" fill="#e4a0ae" stroke="#a8042f" stroke-width="1.5"/>
<circle cx="352.9" cy="123.8" r="1.9" fill="#e4a0ae" stroke="#a8042f" stroke-width="1.5"/>
<circle cx="356.2" cy="123.2" r="1.9" fill="#e4a0ae" stroke="#a8042f" stroke-width="1.5"/>
<circle cx="348.3" cy="126.5" r="1.9" fill="#e4a0ae" stroke="#a8042f" stroke-width="1.5"/>
<circle cx="351.3" cy="126.4" r="1.9" fill="#e4a0ae" stroke="#a8042f" stroke-width="1.5"/>
<circle cx="354.1" cy="125.8" r="1.9" fill="#e4a0ae" stroke="#a8042f" stroke-width="1.5"/>
<circle cx="357.3" cy="126.7" r="1.9" fill="#e4a0ae" stroke="#a8042f" stroke-width="1.5"/>
<circle cx="349.8" cy="129.6" r="1.9" fill="#e4a0ae" stroke="#a8042f" stroke-width="1.5"/>
<circle cx="352.7" cy="129.4" r="1.9" fill="#e4a0ae" stroke="#a8042f" stroke-width="1.5"/>
<circle cx="356.5" cy="129.6" r="1.9" fill="#e4a0ae" stroke="#a8042f" stroke-width="1.5"/>
<circle cx="359.3" cy="129.5" r="1.9" fill="#e4a0ae" stroke="#a8042f" stroke-width="1.5"/>
<circle cx="351.4" cy="132.2" r="1.9" fill="#e4a0ae" stroke="#a8042f" stroke-width="1.5"/>
<circle cx="354.4" cy="132.4" r="1.9" fill="#e4a0ae" stroke="#a8042f" stroke-width="1.5"/>
<circle cx="357.3" cy="132.4" r="1.9" fill="#e4a0ae" stroke="#a8042f" stroke-width="1.5"/>
<circle cx="360.6" cy="132.2" r="1.9" fill="#e4a0ae" stroke="#a8042f" stroke-width="1.5"/>
<circle cx="352.7" cy="135.4" r="1.9" fill="#e4a0ae" stroke="#a8042f" stroke-width="1.5"/>
<circle cx="355.9" cy="135.2" r="1.9" fill="#e4a0ae" stroke="#a8042f" stroke-width="1.5"/>
<circle cx="359.1" cy="134.9" r="1.9" fill="#e4a0ae" stroke="#a8042f" stroke-width="1.5"/>
<circle cx="363.0" cy="135.4" r="1.9" fill="#e4a0ae" stroke="#a8042f" stroke-width="1.5"/>
<circle cx="354.4" cy="137.7" r="1.9" fill="#e4a0ae" stroke="#a8042f" stroke-width="1.5"/>
<circle cx="357.5" cy="137.8" r="1.9" fill="#e4a0ae" stroke="#a8042f" stroke-width="1.5"/>
<circle cx="361.2" cy="137.9" r="1.9" fill="#e4a0ae" stroke="#a8042f" stroke-width="1.5"/>
<circle cx="364.2" cy="138.2" r="1.9" fill="#e4a0ae" stroke="#a8042f" stroke-width="1.5"/>
<circle cx="356.4" cy="140.5" r="1.9" fill="#e4a0ae" stroke="#a8042f" stroke-width="1.5"/>
<circle cx="359.0" cy="140.3" r="1.9" fill="#e4a0ae" stroke="#a8042f" stroke-width="1.5"/>
<circle cx="362.8" cy="140.7" r="1.9" fill="#e4a0ae" stroke="#a8042f" stroke-width="1.5"/>
<circle cx="357.9" cy="143.7" r="1.9" fill="#e4a0ae" stroke="#a8042f" stroke-width="1.5"/>
<circle cx="361.2" cy="144.0" r="1.9" fill="#e4a0ae" stroke="#a8042f" stroke-width="1.5"/>
<circle cx="356.3" cy="146.3" r="1.9" fill="#e4a0ae" stroke="#a8042f" stroke-width="1.5"/>
<circle cx="359.6" cy="146.9" r="1.9" fill="#e4a0ae" stroke="#a8042f" stroke-width="1.5"/>
<circle cx="362.8" cy="146.8" r="1.9" fill="#e4a0ae" stroke="#a8042f" stroke-width="1.5"/>
<circle cx="357.7" cy="149.0" r="1.9" fill="#e4a0ae" stroke="#a8042f" stroke-width="1.5"/>
<circle cx="361.4" cy="149.1" r="1.9" fill="#e4a0ae" stroke="#a8042f" stroke-width="1.5"/>
<circle cx="359.5" cy="152.4" r="1.9" fill="#e4a0ae" stroke="#a8042f" stroke-width="1.5"/>
<circle cx="363.0" cy="152.5" r="1.9" fill="#e4a0ae" stroke="#a8042f" stroke-width="1.5"/>
<circle cx="358.2" cy="155.3" r="1.9" fill="#e4a0ae" stroke="#a8042f" stroke-width="1.5"/>
<circle cx="361.0" cy="155.6" r="1.9" fill="#e4a0ae" stroke="#a8042f" stroke-width="1.5"/>
<path d="M333,128 L338,125.5 L344,125 L348,129 L351.5,136 L354.5,143 L357,149 L358.5,155 L350,157.7 L335,157.9 L327,157.5 L325.8,154 L327.6,146 L330.2,138 L332,132 Z" fill="#a8002c"/>
<circle cx="350.8" cy="87.2" r="2.1" fill="#fbeef0" stroke="#a8042f" stroke-width="1.4"/>
<circle cx="359.1" cy="95.9" r="2.1" fill="#fbeef0" stroke="#a8042f" stroke-width="1.4"/>
<circle cx="346.9" cy="98.75" r="2.1" fill="#fbeef0" stroke="#a8042f" stroke-width="1.4"/>
<circle cx="349.5" cy="104" r="2.1" fill="#fbeef0" stroke="#a8042f" stroke-width="1.4"/>
<circle cx="351.4" cy="107.9" r="2.1" fill="#fbeef0" stroke="#a8042f" stroke-width="1.4"/>
<circle cx="359.6" cy="111.25" r="2.1" fill="#fbeef0" stroke="#a8042f" stroke-width="1.4"/>
<circle cx="338" cy="122.3" r="2.1" fill="#fbeef0" stroke="#a8042f" stroke-width="1.4"/>
<circle cx="361.4" cy="54" r="2.1" fill="#fbeef0" stroke="#a8042f" stroke-width="1.4"/>
<circle cx="368.5" cy="64.6" r="2.1" fill="#fbeef0" stroke="#a8042f" stroke-width="1.4"/>
<circle cx="363.1" cy="130" r="2.1" fill="#fbeef0" stroke="#a8042f" stroke-width="1.4"/>
<circle cx="360.4" cy="135" r="2.1" fill="#fbeef0" stroke="#a8042f" stroke-width="1.4"/>
<circle cx="364.6" cy="133.8" r="2.1" fill="#fbeef0" stroke="#a8042f" stroke-width="1.4"/>
<circle cx="370.4" cy="136.2" r="2.1" fill="#fbeef0" stroke="#a8042f" stroke-width="1.4"/>
<circle cx="366.2" cy="138.1" r="2.1" fill="#fbeef0" stroke="#a8042f" stroke-width="1.4"/>
<circle cx="360.4" cy="143.1" r="2.1" fill="#fbeef0" stroke="#a8042f" stroke-width="1.4"/>
<circle cx="362.7" cy="145.4" r="2.1" fill="#fbeef0" stroke="#a8042f" stroke-width="1.4"/>
<circle cx="362.3" cy="148.1" r="2.1" fill="#fbeef0" stroke="#a8042f" stroke-width="1.4"/>
<circle cx="359.5" cy="152" r="2.1" fill="#fbeef0" stroke="#a8042f" stroke-width="1.4"/>
<circle cx="359.1" cy="95.9" r="1.2" fill="#b01a40"/>
<circle cx="343.8" cy="117.8" r="3" fill="#e6bf2e"/>
<circle cx="338.2" cy="122.6" r="1.3" fill="#e89ac8"/>
<circle cx="348.3" cy="122.1" r="1.3" fill="#e89ac8"/>
<text x="248.7" y="66.9" font-size="8.3" fill="#2f3348" stroke="#2f3348" stroke-width="0.18" text-anchor="start" font-style="italic" textLength="24.3" lengthAdjust="spacingAndGlyphs">GLUT3</text>
<line x1="260.1" y1="58.8" x2="267.3" y2="49" stroke="#111" stroke-width="1.1"/>
<path d="M269.6,46.3 L264.8,48.7 L268.4,51.4 Z" fill="#111"/>
<text x="252.3" y="121" font-size="8.3" fill="#30323f" stroke="#30323f" stroke-width="0.18" text-anchor="start" font-style="italic" textLength="20.2" lengthAdjust="spacingAndGlyphs">LDHA</text>
<line x1="273.7" y1="121.8" x2="290" y2="126.5" stroke="#111" stroke-width="1.2"/>
<path d="M294,127.6 L288.8,124.2 L288,128.6 Z" fill="#111"/>
<text x="6" y="437" font-size="12.3" fill="#000" text-anchor="start" font-weight="bold">F</text>
<text x="174.5" y="436.6" font-size="9.9" fill="#111" text-anchor="middle" font-weight="bold" textLength="23.8" lengthAdjust="spacingAndGlyphs">K562</text>
<line x1="51.25" y1="471.75" x2="51.25" y2="619.5" stroke="#111" stroke-width="1.2"/>
<line x1="48" y1="507.98" x2="51.25" y2="507.98" stroke="#111" stroke-width="1.0"/>
<text x="45.3" y="510.78" font-size="8.2" fill="#2a2a2a" stroke="#2a2a2a" stroke-width="0.18" text-anchor="end">400</text>
<line x1="48" y1="563.74" x2="51.25" y2="563.74" stroke="#111" stroke-width="1.0"/>
<text x="45.3" y="566.54" font-size="8.2" fill="#2a2a2a" stroke="#2a2a2a" stroke-width="0.18" text-anchor="end">200</text>
<line x1="48" y1="619.5" x2="51.25" y2="619.5" stroke="#111" stroke-width="1.0"/>
<text x="45.3" y="622.3" font-size="8.2" fill="#2a2a2a" stroke="#2a2a2a" stroke-width="0.18" text-anchor="end">0</text>
<line x1="51.25" y1="619.5" x2="298" y2="619.5" stroke="#111" stroke-width="1.2"/>
<line x1="51.25" y1="619.5" x2="51.25" y2="622.5" stroke="#111" stroke-width="1.0"/>
<text x="51.25" y="633.2" font-size="8.2" fill="#2a2a2a" stroke="#2a2a2a" stroke-width="0.18" text-anchor="middle">0</text>
<line x1="105.75" y1="619.5" x2="105.75" y2="622.5" stroke="#111" stroke-width="1.0"/>
<text x="105.75" y="633.2" font-size="8.2" fill="#2a2a2a" stroke="#2a2a2a" stroke-width="0.18" text-anchor="middle">20</text>
<line x1="160.25" y1="619.5" x2="160.25" y2="622.5" stroke="#111" stroke-width="1.0"/>
<text x="160.25" y="633.2" font-size="8.2" fill="#2a2a2a" stroke="#2a2a2a" stroke-width="0.18" text-anchor="middle">40</text>
<line x1="214.75" y1="619.5" x2="214.75" y2="622.5" stroke="#111" stroke-width="1.0"/>
<text x="214.75" y="633.2" font-size="8.2" fill="#2a2a2a" stroke="#2a2a2a" stroke-width="0.18" text-anchor="middle">60</text>
<line x1="269.25" y1="619.5" x2="269.25" y2="622.5" stroke="#111" stroke-width="1.0"/>
<text x="269.25" y="633.2" font-size="8.2" fill="#2a2a2a" stroke="#2a2a2a" stroke-width="0.18" text-anchor="middle">80</text>
<text x="174.6" y="646.3" font-size="9.4" fill="#2a2a2a" stroke="#2a2a2a" stroke-width="0.18" text-anchor="middle" textLength="53.3" lengthAdjust="spacingAndGlyphs">Time (minutes)</text>
<text x="25.2" y="545.6" font-size="9" fill="#2a2a2a" stroke="#2a2a2a" stroke-width="0.18" text-anchor="middle" textLength="102" lengthAdjust="spacingAndGlyphs" transform="rotate(-90 25.2 545.6)">OCR (pmoles/min)/130k cells</text>
<text x="115.7" y="472.9" font-size="8.2" fill="#2a2a2a" stroke="#2a2a2a" stroke-width="0.18" text-anchor="middle" textLength="41.9" lengthAdjust="spacingAndGlyphs">Oligomycin</text>
<text x="177.2" y="448.2" font-size="7.8" fill="#4a4a4a" stroke="#4a4a4a" stroke-width="0.18" text-anchor="middle" textLength="21" lengthAdjust="spacingAndGlyphs">FCCP</text>
<text x="240.1" y="473.8" font-size="8.2" fill="#2a2a2a" stroke="#2a2a2a" stroke-width="0.18" text-anchor="middle" textLength="36" lengthAdjust="spacingAndGlyphs">Antimycin</text>
<line x1="115.6" y1="477.5" x2="115.6" y2="490.8" stroke="#111" stroke-width="1.2"/>
<path d="M112.89999999999999,489.8 L118.3,489.8 L115.6,495.8 Z" fill="#111"/>
<line x1="177.3" y1="452" x2="177.3" y2="465.4" stroke="#111" stroke-width="1.2"/>
<path d="M174.60000000000002,464.4 L180.0,464.4 L177.3,470.4 Z" fill="#111"/>
<line x1="238" y1="478.6" x2="238" y2="491.3" stroke="#111" stroke-width="1.2"/>
<path d="M235.3,490.3 L240.7,490.3 L238,496.3 Z" fill="#111"/>
<polyline points="55.0,577.0 75.2,579.5 95.3,580.8 115.5,604.0 135.6,603.3 155.8,602.4 176.0,565.5 196.1,578.3 216.3,580.0 236.4,595.5 256.6,603.5 276.8,605.6" fill="none" stroke="#3b2152" stroke-width="1.8" stroke-linejoin="round"/>
<path d="M52.7,575.4 L57.3,575.4 L55.0,579.3 Z" fill="#3b2152"/>
<path d="M72.86,577.9 L77.46,577.9 L75.16,581.8 Z" fill="#3b2152"/>
<path d="M93.02,579.1999999999999 L97.61999999999999,579.1999999999999 L95.32,583.0999999999999 Z" fill="#3b2152"/>
<path d="M113.18,602.4 L117.78,602.4 L115.48,606.3 Z" fill="#3b2152"/>
<path d="M133.33999999999997,601.6999999999999 L137.94,601.6999999999999 L135.64,605.5999999999999 Z" fill="#3b2152"/>
<path d="M153.5,600.8 L158.10000000000002,600.8 L155.8,604.6999999999999 Z" fill="#3b2152"/>
<path d="M173.76000000000002,564.0 H178.16 M175.96,564.0 V567.0 M173.76000000000002,567.0 H178.16" stroke="#3b2152" stroke-width="1" fill="none"/>
<path d="M173.66,563.9 L178.26000000000002,563.9 L175.96,567.8 Z" fill="#3b2152"/>
<path d="M193.82,576.6999999999999 L198.42000000000002,576.6999999999999 L196.12,580.5999999999999 Z" fill="#3b2152"/>
<path d="M213.98,578.4 L218.58,578.4 L216.28,582.3 Z" fill="#3b2152"/>
<path d="M234.24,591.5 H238.64 M236.44,591.5 V599.5 M234.24,599.5 H238.64" stroke="#3b2152" stroke-width="1" fill="none"/>
<path d="M234.14,593.9 L238.74,593.9 L236.44,597.8 Z" fill="#3b2152"/>
<path d="M254.40000000000003,602.0 H258.8 M256.6,602.0 V605.0 M254.40000000000003,605.0 H258.8" stroke="#3b2152" stroke-width="1" fill="none"/>
<path d="M254.3,601.9 L258.90000000000003,601.9 L256.6,605.8 Z" fill="#3b2152"/>
<path d="M274.56,604.1 H278.96 M276.76,604.1 V607.1 M274.56,607.1 H278.96" stroke="#3b2152" stroke-width="1" fill="none"/>
<path d="M274.46,604.0 L279.06,604.0 L276.76,607.9 Z" fill="#3b2152"/>
<polyline points="55.0,565.8 75.2,568.8 95.3,570.0 115.5,601.2 135.6,600.7 155.8,599.0 176.0,541.0 196.1,558.3 216.3,560.2 236.4,585.0 256.6,593.1 276.8,597.5" fill="none" stroke="#a5002a" stroke-width="1.8" stroke-linejoin="round"/>
<path d="M52.8,564.3 H57.2 M55.0,564.3 V567.3 M52.8,567.3 H57.2" stroke="#a5002a" stroke-width="1" fill="none"/>
<rect x="53.0" y="563.8" width="4" height="4" fill="#a5002a"/>
<path d="M72.96,567.3 H77.36 M75.16,567.3 V570.3 M72.96,570.3 H77.36" stroke="#a5002a" stroke-width="1" fill="none"/>
<rect x="73.16" y="566.8" width="4" height="4" fill="#a5002a"/>
<path d="M93.11999999999999,568.5 H97.52 M95.32,568.5 V571.5 M93.11999999999999,571.5 H97.52" stroke="#a5002a" stroke-width="1" fill="none"/>
<rect x="93.32" y="568" width="4" height="4" fill="#a5002a"/>
<path d="M113.28,599.7 H117.68 M115.48,599.7 V602.7 M113.28,602.7 H117.68" stroke="#a5002a" stroke-width="1" fill="none"/>
<rect x="113.48" y="599.2" width="4" height="4" fill="#a5002a"/>
<path d="M133.44,599.2 H137.83999999999997 M135.64,599.2 V602.2 M133.44,602.2 H137.83999999999997" stroke="#a5002a" stroke-width="1" fill="none"/>
<rect x="133.64" y="598.7" width="4" height="4" fill="#a5002a"/>
<path d="M153.60000000000002,597.5 H158.0 M155.8,597.5 V600.5 M153.60000000000002,600.5 H158.0" stroke="#a5002a" stroke-width="1" fill="none"/>
<rect x="153.8" y="597" width="4" height="4" fill="#a5002a"/>
<path d="M173.76000000000002,536 H178.16 M175.96,536 V546 M173.76000000000002,546 H178.16" stroke="#a5002a" stroke-width="1" fill="none"/>
<rect x="173.96" y="539" width="4" height="4" fill="#a5002a"/>
<path d="M193.92000000000002,556.8 H198.32 M196.12,556.8 V559.8 M193.92000000000002,559.8 H198.32" stroke="#a5002a" stroke-width="1" fill="none"/>
<rect x="194.12" y="556.3" width="4" height="4" fill="#a5002a"/>
<path d="M214.08,558.7 H218.48 M216.28,558.7 V561.7 M214.08,561.7 H218.48" stroke="#a5002a" stroke-width="1" fill="none"/>
<rect x="214.28" y="558.2" width="4" height="4" fill="#a5002a"/>
<path d="M234.24,580 H238.64 M236.44,580 V590 M234.24,590 H238.64" stroke="#a5002a" stroke-width="1" fill="none"/>
<rect x="234.44" y="583" width="4" height="4" fill="#a5002a"/>
<path d="M254.40000000000003,590.1 H258.8 M256.6,590.1 V596.1 M254.40000000000003,596.1 H258.8" stroke="#a5002a" stroke-width="1" fill="none"/>
<rect x="254.60000000000002" y="591.1" width="4" height="4" fill="#a5002a"/>
<path d="M274.56,594.5 H278.96 M276.76,594.5 V600.5 M274.56,600.5 H278.96" stroke="#a5002a" stroke-width="1" fill="none"/>
<rect x="274.76" y="595.5" width="4" height="4" fill="#a5002a"/>
<polyline points="55.0,545.0 75.2,543.3 95.3,542.0 115.5,597.7 135.6,596.7 155.8,595.5 176.0,533.0 196.1,552.0 216.3,552.5 236.4,575.0 256.6,585.6 276.8,590.5" fill="none" stroke="#69aa3c" stroke-width="1.8" stroke-linejoin="round"/>
<path d="M52.8,543.5 H57.2 M55.0,543.5 V546.5 M52.8,546.5 H57.2" stroke="#69aa3c" stroke-width="1" fill="none"/>
<path d="M52.7,546.6 L57.3,546.6 L55.0,542.7 Z" fill="#69aa3c"/>
<path d="M72.96,541.8 H77.36 M75.16,541.8 V544.8 M72.96,544.8 H77.36" stroke="#69aa3c" stroke-width="1" fill="none"/>
<path d="M72.86,544.9 L77.46,544.9 L75.16,541.0 Z" fill="#69aa3c"/>
<path d="M93.11999999999999,540.5 H97.52 M95.32,540.5 V543.5 M93.11999999999999,543.5 H97.52" stroke="#69aa3c" stroke-width="1" fill="none"/>
<path d="M93.02,543.6 L97.61999999999999,543.6 L95.32,539.7 Z" fill="#69aa3c"/>
<path d="M113.28,596.2 H117.68 M115.48,596.2 V599.2 M113.28,599.2 H117.68" stroke="#69aa3c" stroke-width="1" fill="none"/>
<path d="M113.18,599.3000000000001 L117.78,599.3000000000001 L115.48,595.4000000000001 Z" fill="#69aa3c"/>
<path d="M133.33999999999997,598.3000000000001 L137.94,598.3000000000001 L135.64,594.4000000000001 Z" fill="#69aa3c"/>
<path d="M153.5,597.1 L158.10000000000002,597.1 L155.8,593.2 Z" fill="#69aa3c"/>
<path d="M173.76000000000002,530 H178.16 M175.96,530 V536 M173.76000000000002,536 H178.16" stroke="#69aa3c" stroke-width="1" fill="none"/>
<path d="M173.66,534.6 L178.26000000000002,534.6 L175.96,530.7 Z" fill="#69aa3c"/>
<path d="M193.92000000000002,550.5 H198.32 M196.12,550.5 V553.5 M193.92000000000002,553.5 H198.32" stroke="#69aa3c" stroke-width="1" fill="none"/>
<path d="M193.82,553.6 L198.42000000000002,553.6 L196.12,549.7 Z" fill="#69aa3c"/>
<path d="M214.08,551.0 H218.48 M216.28,551.0 V554.0 M214.08,554.0 H218.48" stroke="#69aa3c" stroke-width="1" fill="none"/>
<path d="M213.98,554.1 L218.58,554.1 L216.28,550.2 Z" fill="#69aa3c"/>
<path d="M234.24,570 H238.64 M236.44,570 V580 M234.24,580 H238.64" stroke="#69aa3c" stroke-width="1" fill="none"/>
<path d="M234.14,576.6 L238.74,576.6 L236.44,572.7 Z" fill="#69aa3c"/>
<path d="M254.40000000000003,583.6 H258.8 M256.6,583.6 V587.6 M254.40000000000003,587.6 H258.8" stroke="#69aa3c" stroke-width="1" fill="none"/>
<path d="M254.3,587.2 L258.90000000000003,587.2 L256.6,583.3000000000001 Z" fill="#69aa3c"/>
<path d="M274.56,588.5 H278.96 M276.76,588.5 V592.5 M274.56,592.5 H278.96" stroke="#69aa3c" stroke-width="1" fill="none"/>
<path d="M274.46,592.1 L279.06,592.1 L276.76,588.2 Z" fill="#69aa3c"/>
<polyline points="55.0,552.0 75.2,553.3 95.3,555.0 115.5,596.3 135.6,594.6 155.8,592.9 176.0,528.0 196.1,553.0 216.3,559.0 236.4,583.0 256.6,591.0 276.8,596.0" fill="none" stroke="#e0a02c" stroke-width="1.8" stroke-linejoin="round"/>
<path d="M52.8,549 H57.2 M55.0,549 V555 M52.8,555 H57.2" stroke="#e0a02c" stroke-width="1" fill="none"/>
<path d="M52.8,552 L55.0,549.8 L57.2,552 L55.0,554.2 Z" fill="#e0a02c"/>
<path d="M72.96,549.8 H77.36 M75.16,549.8 V556.8 M72.96,556.8 H77.36" stroke="#e0a02c" stroke-width="1" fill="none"/>
<path d="M72.96,553.3 L75.16,551.0999999999999 L77.36,553.3 L75.16,555.5 Z" fill="#e0a02c"/>
<path d="M93.11999999999999,551.5 H97.52 M95.32,551.5 V558.5 M93.11999999999999,558.5 H97.52" stroke="#e0a02c" stroke-width="1" fill="none"/>
<path d="M93.11999999999999,555 L95.32,552.8 L97.52,555 L95.32,557.2 Z" fill="#e0a02c"/>
<path d="M113.28,594.8 H117.68 M115.48,594.8 V597.8 M113.28,597.8 H117.68" stroke="#e0a02c" stroke-width="1" fill="none"/>
<path d="M113.28,596.3 L115.48,594.0999999999999 L117.68,596.3 L115.48,598.5 Z" fill="#e0a02c"/>
<path d="M133.44,593.1 H137.83999999999997 M135.64,593.1 V596.1 M133.44,596.1 H137.83999999999997" stroke="#e0a02c" stroke-width="1" fill="none"/>
<path d="M133.44,594.6 L135.64,592.4 L137.83999999999997,594.6 L135.64,596.8000000000001 Z" fill="#e0a02c"/>
<path d="M153.60000000000002,591.4 H158.0 M155.8,591.4 V594.4 M153.60000000000002,594.4 H158.0" stroke="#e0a02c" stroke-width="1" fill="none"/>
<path d="M153.60000000000002,592.9 L155.8,590.6999999999999 L158.0,592.9 L155.8,595.1 Z" fill="#e0a02c"/>
<path d="M173.76000000000002,524 H178.16 M175.96,524 V532 M173.76000000000002,532 H178.16" stroke="#e0a02c" stroke-width="1" fill="none"/>
<path d="M173.76000000000002,528 L175.96,525.8 L178.16,528 L175.96,530.2 Z" fill="#e0a02c"/>
<path d="M193.92000000000002,551 H198.32 M196.12,551 V555 M193.92000000000002,555 H198.32" stroke="#e0a02c" stroke-width="1" fill="none"/>
<path d="M193.92000000000002,553 L196.12,550.8 L198.32,553 L196.12,555.2 Z" fill="#e0a02c"/>
<path d="M214.08,557 H218.48 M216.28,557 V561 M214.08,561 H218.48" stroke="#e0a02c" stroke-width="1" fill="none"/>
<path d="M214.08,559 L216.28,556.8 L218.48,559 L216.28,561.2 Z" fill="#e0a02c"/>
<path d="M234.24,580 H238.64 M236.44,580 V586 M234.24,586 H238.64" stroke="#e0a02c" stroke-width="1" fill="none"/>
<path d="M234.24,583 L236.44,580.8 L238.64,583 L236.44,585.2 Z" fill="#e0a02c"/>
<path d="M254.40000000000003,589 H258.8 M256.6,589 V593 M254.40000000000003,593 H258.8" stroke="#e0a02c" stroke-width="1" fill="none"/>
<path d="M254.40000000000003,591 L256.6,588.8 L258.8,591 L256.6,593.2 Z" fill="#e0a02c"/>
<path d="M274.56,594 H278.96 M276.76,594 V598 M274.56,598 H278.96" stroke="#e0a02c" stroke-width="1" fill="none"/>
<path d="M274.56,596 L276.76,593.8 L278.96,596 L276.76,598.2 Z" fill="#e0a02c"/>
<polyline points="55.0,517.0 75.2,516.3 95.3,517.0 115.5,583.9 135.6,582.5 155.8,579.0 176.0,490.0 196.1,508.0 216.3,505.8 236.4,552.0 256.6,572.0 276.8,581.3" fill="none" stroke="#2d4b84" stroke-width="1.8" stroke-linejoin="round"/>
<path d="M52.8,512 H57.2 M55.0,512 V522 M52.8,522 H57.2" stroke="#2d4b84" stroke-width="1" fill="none"/>
<circle cx="55.0" cy="517" r="2.1" fill="#2d4b84"/>
<path d="M72.96,510.29999999999995 H77.36 M75.16,510.29999999999995 V522.3 M72.96,522.3 H77.36" stroke="#2d4b84" stroke-width="1" fill="none"/>
<circle cx="75.16" cy="516.3" r="2.1" fill="#2d4b84"/>
<path d="M93.11999999999999,512 H97.52 M95.32,512 V522 M93.11999999999999,522 H97.52" stroke="#2d4b84" stroke-width="1" fill="none"/>
<circle cx="95.32" cy="517" r="2.1" fill="#2d4b84"/>
<path d="M113.28,581.9 H117.68 M115.48,581.9 V585.9 M113.28,585.9 H117.68" stroke="#2d4b84" stroke-width="1" fill="none"/>
<circle cx="115.48" cy="583.9" r="2.1" fill="#2d4b84"/>
<path d="M133.44,581.0 H137.83999999999997 M135.64,581.0 V584.0 M133.44,584.0 H137.83999999999997" stroke="#2d4b84" stroke-width="1" fill="none"/>
<circle cx="135.64" cy="582.5" r="2.1" fill="#2d4b84"/>
<path d="M153.60000000000002,577 H158.0 M155.8,577 V581 M153.60000000000002,581 H158.0" stroke="#2d4b84" stroke-width="1" fill="none"/>
<circle cx="155.8" cy="579" r="2.1" fill="#2d4b84"/>
<path d="M173.76000000000002,479 H178.16 M175.96,479 V501 M173.76000000000002,501 H178.16" stroke="#2d4b84" stroke-width="1" fill="none"/>
<circle cx="175.96" cy="490" r="2.1" fill="#2d4b84"/>
<path d="M193.92000000000002,501.2 H198.32 M196.12,501.2 V514.8 M193.92000000000002,514.8 H198.32" stroke="#2d4b84" stroke-width="1" fill="none"/>
<circle cx="196.12" cy="508" r="2.1" fill="#2d4b84"/>
<path d="M214.08,498.8 H218.48 M216.28,498.8 V512.8 M214.08,512.8 H218.48" stroke="#2d4b84" stroke-width="1" fill="none"/>
<circle cx="216.28" cy="505.8" r="2.1" fill="#2d4b84"/>
<path d="M234.24,542.3 H238.64 M236.44,542.3 V561.7 M234.24,561.7 H238.64" stroke="#2d4b84" stroke-width="1" fill="none"/>
<circle cx="236.44" cy="552" r="2.1" fill="#2d4b84"/>
<path d="M254.40000000000003,563.7 H258.8 M256.6,563.7 V580.3 M254.40000000000003,580.3 H258.8" stroke="#2d4b84" stroke-width="1" fill="none"/>
<circle cx="256.6" cy="572" r="2.1" fill="#2d4b84"/>
<path d="M274.56,576.5999999999999 H278.96 M276.76,576.5999999999999 V586.0 M274.56,586.0 H278.96" stroke="#2d4b84" stroke-width="1" fill="none"/>
<circle cx="276.76" cy="581.3" r="2.1" fill="#2d4b84"/>
<circle cx="69.85" cy="548.1" r="1.15" fill="#2a2a4a"/>
<circle cx="73.35" cy="548.1" r="1.15" fill="#2a2a4a"/>
<circle cx="76.85" cy="548.1" r="1.15" fill="#2a2a4a"/>
<circle cx="80.35" cy="548.1" r="1.15" fill="#2a2a4a"/>
<circle cx="172.00" cy="561.2" r="1.15" fill="#2a3030"/>
<circle cx="175.40" cy="561.2" r="1.15" fill="#2a3030"/>
<circle cx="178.80" cy="561.2" r="1.15" fill="#2a3030"/>
<circle cx="182.20" cy="561.2" r="1.15" fill="#2a3030"/>
<line x1="291.3" y1="528.6" x2="303" y2="528.6" stroke="#e0a02c" stroke-width="1.9"/>
<path d="M295.0,528.6 L297.2,526.4 L299.4,528.6 L297.2,530.8000000000001 Z" fill="#e0a02c"/>
<text x="306.2" y="531.5" font-size="7.9" fill="#2a2a2a" stroke="#2a2a2a" stroke-width="0.18" text-anchor="start" textLength="76.5" lengthAdjust="spacingAndGlyphs">Imatinib+CB839+αKG</text>
<line x1="291.3" y1="540.8" x2="303" y2="540.8" stroke="#3b2152" stroke-width="1.9"/>
<path d="M294.9,539.1999999999999 L299.5,539.1999999999999 L297.2,543.0999999999999 Z" fill="#3b2152"/>
<text x="306.2" y="543.7" font-size="7.9" fill="#2a2a2a" stroke="#2a2a2a" stroke-width="0.18" text-anchor="start" textLength="56" lengthAdjust="spacingAndGlyphs">Imatinib+CB839</text>
<line x1="291.3" y1="552.7" x2="303" y2="552.7" stroke="#69aa3c" stroke-width="1.9"/>
<path d="M294.9,554.3000000000001 L299.5,554.3000000000001 L297.2,550.4000000000001 Z" fill="#69aa3c"/>
<text x="306.2" y="555.6" font-size="7.9" fill="#2a2a2a" stroke="#2a2a2a" stroke-width="0.18" text-anchor="start" textLength="22.8" lengthAdjust="spacingAndGlyphs">CB839</text>
<line x1="291.3" y1="564.7" x2="303" y2="564.7" stroke="#a5002a" stroke-width="1.9"/>
<rect x="295.2" y="562.7" width="4" height="4" fill="#a5002a"/>
<text x="306.2" y="567.6" font-size="7.9" fill="#2a2a2a" stroke="#2a2a2a" stroke-width="0.18" text-anchor="start" textLength="27.9" lengthAdjust="spacingAndGlyphs">Imatinib</text>
<line x1="291.3" y1="576.3" x2="303" y2="576.3" stroke="#2d4b84" stroke-width="1.9"/>
<circle cx="297.2" cy="576.3" r="2" fill="#2d4b84"/>
<text x="306.2" y="579.2" font-size="7.9" fill="#2a2a2a" stroke="#2a2a2a" stroke-width="0.18" text-anchor="start" textLength="23.2" lengthAdjust="spacingAndGlyphs">DMSO</text>
<rect x="0.5" y="0.5" width="519" height="655" fill="none" stroke="#000" stroke-width="1.4"/>
</svg></body></html>
